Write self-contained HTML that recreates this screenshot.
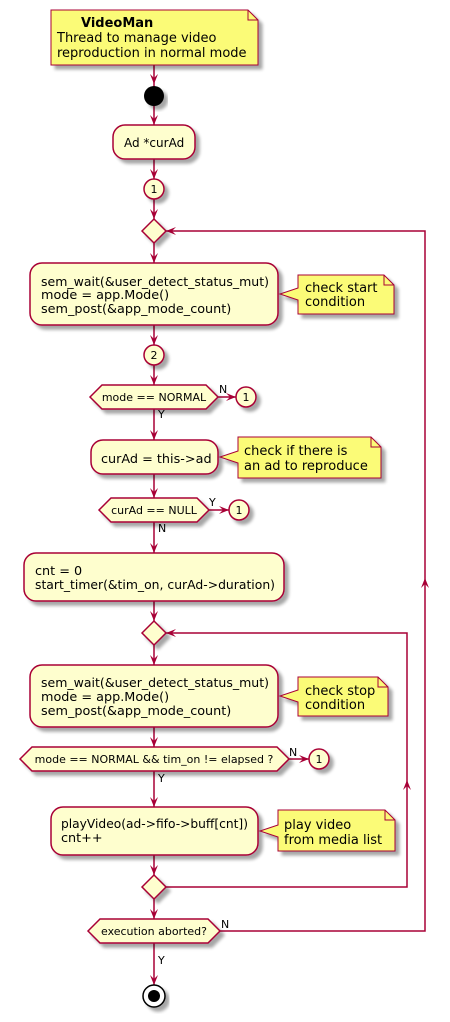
<!DOCTYPE html>
<html><head><meta charset="utf-8"><style>
html,body{margin:0;padding:0;background:#fff}
svg{display:block}
text{font-family:"DejaVu Sans","Liberation Sans",sans-serif;fill:#000}
</style></head><body>
<svg width="450" height="1022" viewBox="0 0 450 1022" xmlns="http://www.w3.org/2000/svg">
<defs>
<filter id="sh" x="-10%" y="-10%" width="130%" height="140%"><feGaussianBlur in="SourceAlpha" stdDeviation="1.5"/><feOffset dx="4" dy="4"/><feComponentTransfer><feFuncA type="linear" slope="0.35"/></feComponentTransfer><feMerge><feMergeNode/><feMergeNode in="SourceGraphic"/></feMerge></filter>
</defs>
<g stroke="#A80036" stroke-width="1.5" fill="none">
<line x1="154" y1="65" x2="154" y2="985"/>
<line x1="218" y1="397" x2="236" y2="397"/>
<line x1="209" y1="510" x2="229" y2="510"/>
<line x1="289" y1="759" x2="309" y2="759"/>
<polyline points="166,887 407,887 407,633 166,633"/>
<polyline points="220,931 425,931 425,231 166,231"/>
</g>
<g fill="#A80036">
<polygon points="150,74 154,84 158,74 154,78"/>
<polygon points="150,115 154,125 158,115 154,119"/>
<polygon points="150,169 154,179 158,169 154,173"/>
<polygon points="150,209 154,219 158,209 154,213"/>
<polygon points="150,253 154,263 158,253 154,257"/>
<polygon points="150,335 154,345 158,335 154,339"/>
<polygon points="150,375 154,385 158,375 154,379"/>
<polygon points="150,430 154,440 158,430 154,434"/>
<polygon points="150,488 154,498 158,488 154,492"/>
<polygon points="150,543 154,553 158,543 154,547"/>
<polygon points="150,611 154,621 158,611 154,615"/>
<polygon points="150,655 154,665 158,655 154,659"/>
<polygon points="150,737 154,747 158,737 154,741"/>
<polygon points="150,797 154,807 158,797 154,801"/>
<polygon points="150,865 154,875 158,865 154,869"/>
<polygon points="150,909 154,919 158,909 154,913"/>
<polygon points="150,975 154,985 158,975 154,979"/>
<polygon points="226,393 236,397 226,401 230,397"/>
<polygon points="219,506 229,510 219,514 223,510"/>
<polygon points="299,755 309,759 299,763 303,759"/>
<polygon points="176,227 166,231 176,235 172,231"/>
<polygon points="176,629 166,633 176,637 172,633"/>
<polygon points="421,588 425,578 429,588 425,584"/>
<polygon points="403,790 407,780 411,790 407,786"/>
</g>
<g stroke="#A80036" stroke-width="1.5" fill="#FEFECE" filter="url(#sh)">
<circle cx="154" cy="189" r="10"/>
<circle cx="154" cy="355" r="10"/>
<circle cx="246" cy="397" r="10"/>
<circle cx="239" cy="510" r="10"/>
<circle cx="319" cy="759" r="10"/>
<polygon points="142,231 154,219 166,231 154,243"/>
<polygon points="142,633 154,621 166,633 154,645"/>
<polygon points="142,887 154,875 166,887 154,899"/>
<rect x="113" y="125" width="82" height="34" rx="12"/>
<rect x="30" y="263" width="248" height="62" rx="12"/>
<rect x="91" y="440" width="127" height="34" rx="12"/>
<rect x="24" y="553" width="260" height="48" rx="12"/>
<rect x="30" y="665" width="248" height="62" rx="12"/>
<rect x="51" y="807" width="207" height="48" rx="12"/>
<polygon points="90,397 102,385 206,385 218,397 206,409 102,409"/>
<polygon points="99,510 111,498 197,498 209,510 197,522 111,522"/>
<polygon points="20,759 32,747 277,747 289,759 277,771 32,771"/>
<polygon points="88,931 100,919 208,919 220,931 208,943 100,943"/>
</g>
<g stroke="#A80036" stroke-width="1" fill="#FBFB77" filter="url(#sh)">
<polygon points="51,10 248,10 258,20 258,65 51,65"/>
<polygon points="298,275 384,275 394,285 394,314 298,314 298,300 280,294 298,288"/>
<polygon points="238,437 371,437 381,447 381,478 238,478 238,463 220,457 238,451"/>
<polygon points="298,677 378,677 388,687 388,716 298,716 298,702 280,696 298,690"/>
<polygon points="278,810 385,810 395,820 395,851 278,851 278,837 260,831 278,825"/>
</g>
<g stroke="#A80036" stroke-width="1" fill="none">
<polyline points="248,10 248,20 258,20"/>
<polyline points="384,275 384,285 394,285"/>
<polyline points="371,437 371,447 381,447"/>
<polyline points="378,677 378,687 388,687"/>
<polyline points="385,810 385,820 395,820"/>
</g>
<circle cx="154" cy="96" r="10" fill="#000" filter="url(#sh)"/>
<circle cx="154" cy="996" r="11" fill="#fff" stroke="#000" stroke-width="1.5" filter="url(#sh)"/>
<circle cx="154" cy="996" r="6" fill="#000"/>
<g font-size="13">
<text x="81" y="27" font-weight="bold">VideoMan</text>
<text x="57" y="42">Thread to manage video</text>
<text x="57" y="57">reproduction in normal mode</text>
<text x="124" y="147" font-size="12">Ad *curAd</text>
<text x="305" y="292">check start</text>
<text x="305" y="306">condition</text>
<text x="244" y="455">check if there is</text>
<text x="244" y="470">an ad to reproduce</text>
<text x="305" y="695">check stop</text>
<text x="305" y="709">condition</text>
<text x="284" y="829">play video</text>
<text x="284" y="844">from media list</text>
</g>
<g font-size="12.8">
<text x="41" y="286" textLength="228" lengthAdjust="spacingAndGlyphs">sem_wait(&amp;user_detect_status_mut)</text>
<text x="41" y="299">mode = app.Mode()</text>
<text x="41" y="313">sem_post(&amp;app_mode_count)</text>
<text x="101" y="463">curAd = this-&gt;ad</text>
<text x="35" y="575">cnt = 0</text>
<text x="35" y="589" textLength="240" lengthAdjust="spacingAndGlyphs">start_timer(&amp;tim_on, curAd-&gt;duration)</text>
<text x="41" y="687" textLength="228" lengthAdjust="spacingAndGlyphs">sem_wait(&amp;user_detect_status_mut)</text>
<text x="41" y="701">mode = app.Mode()</text>
<text x="41" y="715">sem_post(&amp;app_mode_count)</text>
<text x="61" y="828" textLength="187" lengthAdjust="spacingAndGlyphs">playVideo(ad-&gt;fifo-&gt;buff[cnt])</text>
<text x="61" y="842">cnt++</text>
</g>
<g font-size="11">
<text x="154" y="193" text-anchor="middle">1</text>
<text x="154" y="359" text-anchor="middle">2</text>
<text x="246" y="401" text-anchor="middle">1</text>
<text x="239" y="514" text-anchor="middle">1</text>
<text x="319" y="763" text-anchor="middle">1</text>
<text x="154" y="401" text-anchor="middle">mode == NORMAL</text>
<text x="154" y="514" text-anchor="middle">curAd == NULL</text>
<text x="154" y="763" text-anchor="middle">mode == NORMAL &amp;&amp; tim_on != elapsed ?</text>
<text x="154" y="935" text-anchor="middle">execution aborted?</text>
<text x="219" y="393">N</text>
<text x="158" y="418">Y</text>
<text x="209" y="506">Y</text>
<text x="158" y="532">N</text>
<text x="289" y="756">N</text>
<text x="158" y="782">Y</text>
<text x="221" y="928">N</text>
<text x="158" y="964">Y</text>
</g>
</svg>
</body></html>
